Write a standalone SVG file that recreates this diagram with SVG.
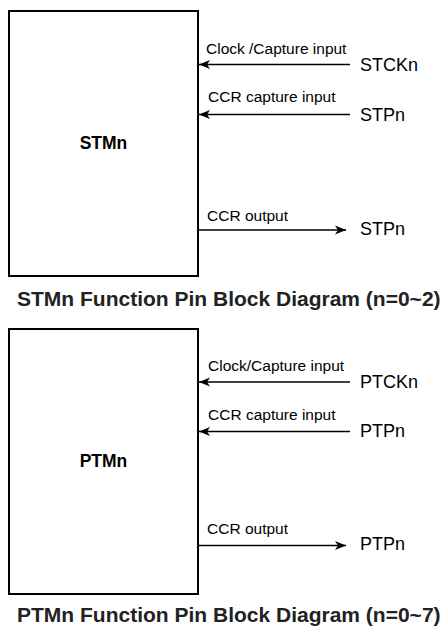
<svg xmlns="http://www.w3.org/2000/svg" width="446" height="626" viewBox="0 0 446 626">
<style>
.box{fill:#fff;stroke:#000;stroke-width:2}
.lbl{font-family:"Liberation Sans",Arial,sans-serif;font-size:15.5px;fill:#000}
.pin{font-family:"Liberation Sans",Arial,sans-serif;font-size:18px;fill:#000}
.name{font-family:"Liberation Sans",Arial,sans-serif;font-size:17.5px;font-weight:bold;fill:#000;text-anchor:middle}
.title{font-family:"Liberation Sans",Arial,sans-serif;font-size:21px;font-weight:bold;fill:#222}
.wire{stroke:#000;stroke-width:1.5;fill:none;marker-end:url(#ah)}
</style>
<defs>
<marker id="ah" markerUnits="userSpaceOnUse" markerWidth="12" markerHeight="10" refX="11" refY="5" orient="auto">
<path d="M0,0.5 L11,5 L0,9.5 L3,5 Z" fill="#000"/>
</marker>
</defs>
<rect width="446" height="626" fill="#fff"/>
<g id="stmn">
<rect class="box" x="9" y="11" width="189" height="265"/>
<text class="name" x="103.5" y="149">STMn</text>
</g>
<g id="stmn-pins">
<text class="lbl" x="206" y="54">Clock /Capture input</text>
<text class="pin" x="360" y="71">STCKn</text>
<text class="lbl" x="208" y="102">CCR capture input</text>
<text class="pin" x="360" y="121">STPn</text>
<text class="lbl" x="207" y="221">CCR output</text>
<text class="pin" x="360" y="235">STPn</text>
</g>
<text class="title" x="17" y="306">STMn Function Pin Block Diagram (n=0~2)</text>
<g id="ptmn">
<rect class="box" x="9" y="329" width="189" height="265"/>
<text class="name" x="103.5" y="467">PTMn</text>
</g>
<g id="ptmn-pins">
<text class="lbl" x="208" y="371">Clock/Capture input</text>
<text class="pin" x="360" y="388">PTCKn</text>
<text class="lbl" x="208" y="420">CCR capture input</text>
<text class="pin" x="360" y="437">PTPn</text>
<text class="lbl" x="207" y="534">CCR output</text>
<text class="pin" x="360" y="550">PTPn</text>
</g>
<text class="title" x="17" y="622">PTMn Function Pin Block Diagram (n=0~7)</text>
<g id="connectors">
<line class="wire" x1="350" y1="64.5" x2="199" y2="64.5"/>
<line class="wire" x1="350" y1="114.5" x2="199" y2="114.5"/>
<line class="wire" x1="198" y1="230" x2="346" y2="230"/>
<line class="wire" x1="350" y1="382" x2="199" y2="382"/>
<line class="wire" x1="350" y1="431.5" x2="199" y2="431.5"/>
<line class="wire" x1="198" y1="545.5" x2="346" y2="545.5"/>
</g>
</svg>
